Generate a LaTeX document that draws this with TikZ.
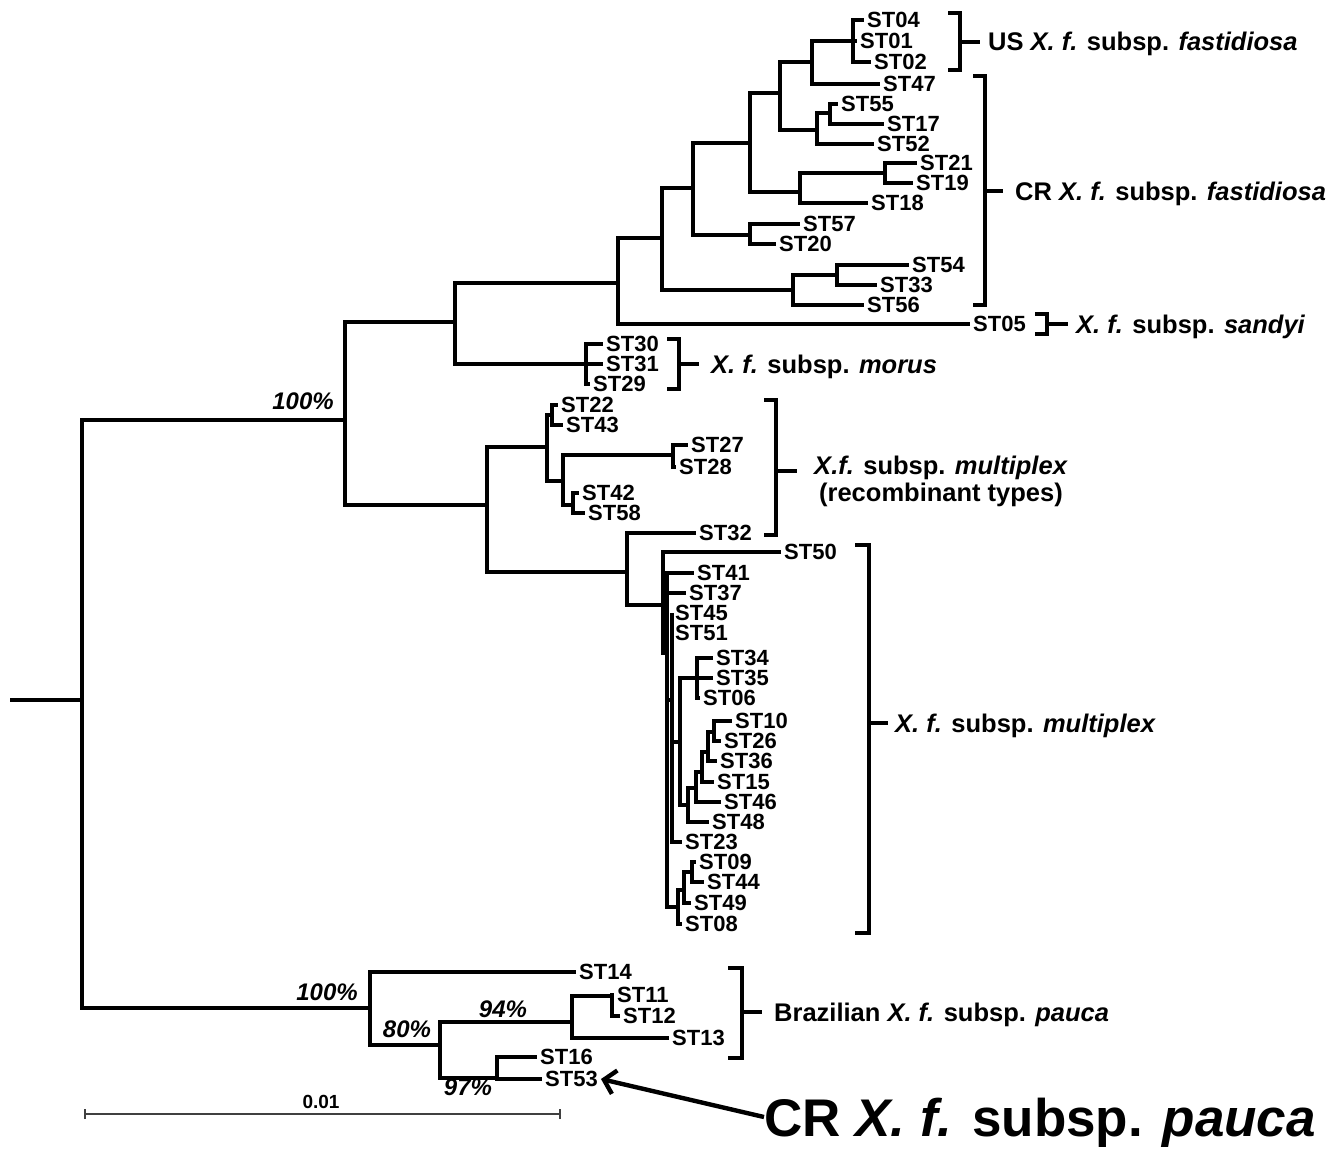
\documentclass[tikz,border=0pt]{standalone}
\usepackage{fontspec}
\setmainfont{Liberation Sans}
\usetikzlibrary{arrows.meta}

\begin{document}
\begin{tikzpicture}[
			x=1pt, y=-1pt,
			branch/.style={line width=4.4pt, line join=miter},
			stlbl/.style={anchor=west, inner xsep=3pt, inner ysep=0pt, text height=15.5pt, text depth=0pt, font=\fontsize{22}{24}\selectfont\bfseries},
			grp/.style={anchor=west, inner sep=0pt, text height=18pt, text depth=0pt, font=\fontsize{25.5}{28}\selectfont\bfseries},
			pct/.style={inner sep=0pt, font=\fontsize{24}{26}\selectfont\bfseries\itshape}
			]
			\useasboundingbox (0,0) rectangle (1337,1148);
			% inner nodes
			\coordinate (rt0) at (10,700);
			\coordinate (rt) at (82,700);
			\coordinate (A) at (345,420);
			\coordinate (P) at (370,1008);
			\coordinate (B) at (455,322);
			\coordinate (C) at (487,505);
			\coordinate (D) at (618,283);
			\coordinate (mor) at (586,364);
			\coordinate (E) at (662,238);
			\coordinate (F) at (693,188);
			\coordinate (G) at (793,290);
			\coordinate (H) at (750,143);
			\coordinate (I) at (750,235);
			\coordinate (J) at (780,93);
			\coordinate (K) at (800,192);
			\coordinate (Jt) at (812,62);
			\coordinate (L) at (817,130);
			\coordinate (US) at (853,41);
			\coordinate (M) at (830,113);
			\coordinate (N) at (885,173);
			\coordinate (O) at (837,275);
			\coordinate (Q) at (547,447);
			\coordinate (R) at (627,572);
			\coordinate (T) at (552,415);
			\coordinate (U) at (563,481);
			\coordinate (V) at (673,455);
			\coordinate (W) at (573,505);
			\coordinate (X) at (663,605);
			\coordinate (Y) at (667,653);
			\coordinate (Y2) at (672,700);
			\coordinate (Z) at (680,742);
			\coordinate (Z1) at (697,678);
			\coordinate (n1) at (688,805);
			\coordinate (n2) at (696,788);
			\coordinate (n3) at (702,772);
			\coordinate (n4) at (708,752);
			\coordinate (n5) at (714,732);
			\coordinate (AA) at (678,907);
			\coordinate (AB) at (684,890);
			\coordinate (AC) at (692,872);
			\coordinate (PB) at (440,1045);
			\coordinate (PC) at (572,1022);
			\coordinate (PD) at (497,1078);
			\coordinate (PE) at (612,996);
			% leaves
			\node[stlbl] (s04) at (864,20) {ST04};
			\node[stlbl] (s01) at (857,41) {ST01};
			\node[stlbl] (s02) at (871,62) {ST02};
			\node[stlbl] (s47) at (880,84) {ST47};
			\node[stlbl] (s55) at (838,104) {ST55};
			\node[stlbl] (s17) at (884,124) {ST17};
			\node[stlbl] (s52) at (874,144) {ST52};
			\node[stlbl] (s21) at (917,163) {ST21};
			\node[stlbl] (s19) at (913,183) {ST19};
			\node[stlbl] (s18) at (868,203) {ST18};
			\node[stlbl] (s57) at (800,224) {ST57};
			\node[stlbl] (s20) at (776,244) {ST20};
			\node[stlbl] (s54) at (909,265) {ST54};
			\node[stlbl] (s33) at (877,285) {ST33};
			\node[stlbl] (s56) at (864,305) {ST56};
			\node[stlbl] (s05) at (970,324) {ST05};
			\node[stlbl] (s30) at (603,344) {ST30};
			\node[stlbl] (s31) at (603,364) {ST31};
			\node[stlbl] (s29) at (590,384) {ST29};
			\node[stlbl] (s22) at (558,405) {ST22};
			\node[stlbl] (s43) at (563,425) {ST43};
			\node[stlbl] (s27) at (688,445) {ST27};
			\node[stlbl] (s28) at (676,467) {ST28};
			\node[stlbl] (s42) at (579,493) {ST42};
			\node[stlbl] (s58) at (585,513) {ST58};
			\node[stlbl] (s32) at (696,533) {ST32};
			\node[stlbl] (s50) at (781,552) {ST50};
			\node[stlbl] (s41) at (694,573) {ST41};
			\node[stlbl] (s37) at (686,593) {ST37};
			\node[stlbl] (s45) at (672,613) {ST45};
			\node[stlbl] (s51) at (672,633) {ST51};
			\node[stlbl] (s34) at (713,658) {ST34};
			\node[stlbl] (s35) at (713,678) {ST35};
			\node[stlbl] (s06) at (700,698) {ST06};
			\node[stlbl] (s10) at (732,721) {ST10};
			\node[stlbl] (s26) at (721,741) {ST26};
			\node[stlbl] (s36) at (717,761) {ST36};
			\node[stlbl] (s15) at (714,782) {ST15};
			\node[stlbl] (s46) at (721,802) {ST46};
			\node[stlbl] (s48) at (709,822) {ST48};
			\node[stlbl] (s23) at (682,842) {ST23};
			\node[stlbl] (s09) at (696,862) {ST09};
			\node[stlbl] (s44) at (704,882) {ST44};
			\node[stlbl] (s49) at (691,903) {ST49};
			\node[stlbl] (s08) at (682,924) {ST08};
			\node[stlbl] (s14) at (576,972) {ST14};
			\node[stlbl] (s11) at (614,995) {ST11};
			\node[stlbl] (s12) at (620,1016) {ST12};
			\node[stlbl] (s13) at (669,1038) {ST13};
			\node[stlbl] (s16) at (537,1057) {ST16};
			\node[stlbl] (s53) at (542,1079) {ST53};
			% branches
			\draw[branch] (rt0) -- (rt);
			\draw[branch] (rt) |- (A) (rt) |- (P);
			\draw[branch] (A) |- (B) (A) |- (C);
			\draw[branch] (B) |- (D) (B) |- (mor);
			\draw[branch] (D) |- (E) (D) |- (s05.west);
			\draw[branch] (E) |- (F) (E) |- (G);
			\draw[branch] (F) |- (H) (F) |- (I);
			\draw[branch] (H) |- (J) (H) |- (K);
			\draw[branch] (J) |- (Jt) (J) |- (L);
			\draw[branch] (Jt) |- (US) (Jt) |- (s47.west);
			\draw[branch] (US) |- (s04.west) (US) |- (s01.west) (US) |- (s02.west);
			\draw[branch] (L) |- (M) (L) |- (s52.west);
			\draw[branch] (M) |- (s55.west) (M) |- (s17.west);
			\draw[branch] (K) |- (N) (K) |- (s18.west);
			\draw[branch] (N) |- (s21.west) (N) |- (s19.west);
			\draw[branch] (I) |- (s57.west) (I) |- (s20.west);
			\draw[branch] (G) |- (O) (G) |- (s56.west);
			\draw[branch] (O) |- (s54.west) (O) |- (s33.west);
			\draw[branch] (mor) |- (s30.west) (mor) |- (s31.west) (mor) |- (s29.west);
			\draw[branch] (C) |- (Q) (C) |- (R);
			\draw[branch] (Q) |- (T) (Q) |- (U);
			\draw[branch] (T) |- (s22.west) (T) |- (s43.west);
			\draw[branch] (U) |- (V) (U) |- (W);
			\draw[branch] (V) |- (s27.west) (V) |- (s28.west);
			\draw[branch] (W) |- (s42.west) (W) |- (s58.west);
			\draw[branch] (R) |- (s32.west) (R) |- (X);
			\draw[branch] (X) |- (s50.west) (X) |- (Y);
			\draw[branch] (Y) |- (s41.west) (Y) |- (s37.west) (Y) |- (Y2) (Y) |- (AA);
			\draw[branch] (Y2) |- (s45.west) (Y2) |- (s51.west) (Y2) |- (Z) (Y2) |- (s23.west);
			\draw[branch] (Z) |- (Z1) (Z) |- (n1);
			\draw[branch] (Z1) |- (s34.west) (Z1) |- (s35.west) (Z1) |- (s06.west);
			\draw[branch] (n1) |- (n2) (n1) |- (s48.west);
			\draw[branch] (n2) |- (n3) (n2) |- (s46.west);
			\draw[branch] (n3) |- (n4) (n3) |- (s15.west);
			\draw[branch] (n4) |- (n5) (n4) |- (s36.west);
			\draw[branch] (n5) |- (s10.west) (n5) |- (s26.west);
			\draw[branch] (AA) |- (AB) (AA) |- (s08.west);
			\draw[branch] (AB) |- (AC) (AB) |- (s49.west);
			\draw[branch] (AC) |- (s09.west) (AC) |- (s44.west);
			\draw[branch] (P) |- (s14.west) (P) |- (PB);
			\draw[branch] (PB) |- (PC) (PB) |- (PD);
			\draw[branch] (PC) |- (PE) (PC) |- (s13.west);
			\draw[branch] (PE) |- (s11.west) (PE) |- (s12.west);
			\draw[branch] (PD) |- (s16.west) (PD) |- (s53.west);
			% support values
			\node[pct] (bA) at (303,401) {100\%};
			\node[pct] (bP) at (327,992) {100\%};
			\node[pct] (bPB) at (407,1029) {80\%};
			\node[pct] (bPC) at (503,1009) {94\%};
			\node[pct] (bPD) at (468,1087) {97\%};
			% brackets and groups
			\draw[branch] (948,13) -| (960,70) -- (948,70) (960,42) -- (980,42);
			\node[grp] (lus) at (988,42) {US \textit{X. f.} subsp. \textit{fastidiosa}};
			\draw[branch] (973,76) -| (985,305) -- (973,305) (985,191) -- (1003,191);
			\node[grp] (lcrf) at (1015,191) {CR \textit{X. f.} subsp. \textit{fastidiosa}};
			\draw[branch] (1035,314) -| (1047,334) -- (1035,334) (1047,324) -- (1068,324);
			\node[grp] (lsan) at (1076,324) {\textit{X. f.} subsp. \textit{sandyi}};
			\draw[branch] (667,339) -| (679,389) -- (667,389) (679,364) -- (699,364);
			\node[grp] (lmor) at (711,364) {\textit{X. f.} subsp. \textit{morus}};
			\draw[branch] (764,400) -| (776,535) -- (764,535) (776,471) -- (797,471);
			\node[inner sep=0pt, align=center, font=\fontsize{25.5}{27}\selectfont\bfseries] (lrec) at (941,481) {\textit{X.f.} subsp. \textit{multiplex}\\(recombinant types)};
			\draw[branch] (855,545) -| (869,933) -- (855,933) (869,723) -- (888,723);
			\node[grp] (lmul) at (895,723) {\textit{X. f.} subsp. \textit{multiplex}};
			\draw[branch] (728,968) -| (742,1058) -- (728,1058) (742,1012) -- (762,1012);
			\node[grp] (lbra) at (774,1012) {Brazilian \textit{X. f.} subsp. \textit{pauca}};
			% CR pauca
			\node[anchor=west, inner sep=0pt, text height=38pt, text depth=0pt, font=\fontsize{53}{56}\selectfont\bfseries] (crp) at (764,1117) {CR \textit{X. f.} subsp. \textit{pauca}};
			\draw[line width=4.4pt, -{Straight Barb[length=11pt, width=24pt]}] (crp.west) -- (s53.east);
			% scale bar
			\coordinate (sb0) at (85,1114);
			\coordinate (sb1) at (560,1114);
			\draw[line width=1.5pt, black!75] (sb0) -- (sb1) ([yshift=-5pt]sb0) -- ([yshift=5pt]sb0) ([yshift=-5pt]sb1) -- ([yshift=5pt]sb1);
			\node[inner sep=0pt, font=\fontsize{19}{20}\selectfont\bfseries] (sbl) at (321,1102) {0.01};
		\end{tikzpicture}
\end{document}
